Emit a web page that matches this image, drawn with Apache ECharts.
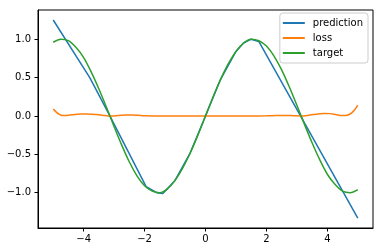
<!DOCTYPE html>
<html><head><meta charset="utf-8">
<script src="https://cdn.jsdelivr.net/npm/echarts@6/dist/echarts.min.js"></script>
<style>html,body{margin:0;padding:0;background:#fff}#c{width:383px;height:252px}</style>
</head><body><div id="c"></div>
<script>
const xTicks = [-4, -2, 0, 2, 4];
const yTicks = [-1, -0.5, 0, 0.5, 1];
const predX = [-5, -3.8, -3.14, -1.95, -1.6, -1.4, -1.0, -0.5, 0, 0.5, 1.0, 1.25, 1.5, 1.75, 5];
const predY = [1.25, 0.5, 0.0, -0.92, -1.0, -1.01, -0.84, -0.48, 0, 0.48, 0.84, 0.95, 1.0, 0.97, -1.33];
const lossX = [-5, -4.9, -4.8, -4.7, -4.5, -4.3, -4.1, -3.9, -3.6, -3.3, -3.15, -2.9, -2.6, -2.4, -2.2, -2.0, -1.5, -1, 0, 1, 1.5, 2.0, 2.3, 2.6, 2.9, 3.15, 3.4, 3.7, 3.9, 4.1, 4.3, 4.5, 4.6, 4.7, 4.8, 4.9, 5];
const lossY = [0.09, 0.05, 0.02, 0.005, 0.008, 0.02, 0.026, 0.025, 0.018, 0.006, 0.0, 0.004, 0.012, 0.013, 0.008, 0.002, 0, 0, 0, 0, 0, 0.001, 0.004, 0.006, 0.003, 0.0, 0.01, 0.025, 0.033, 0.03, 0.015, 0.004, 0.005, 0.015, 0.04, 0.08, 0.14];
const targetX = [-5, -4.75, -4.5, -4.25, -4, -3.75, -3.5, -3.25, -3, -2.75, -2.5, -2.25, -2, -1.75, -1.5, -1.25, -1, -0.75, -0.5, -0.25, 0, 0.25, 0.5, 0.75, 1, 1.25, 1.5, 1.75, 2, 2.25, 2.5, 2.75, 3, 3.25, 3.5, 3.75, 4, 4.25, 4.5, 4.75, 5];
const targetY = [0.96, 1.00, 0.98, 0.89, 0.76, 0.57, 0.35, 0.11, -0.14, -0.38, -0.60, -0.78, -0.91, -0.98, -1.00, -0.95, -0.84, -0.68, -0.48, -0.25, 0, 0.25, 0.48, 0.68, 0.84, 0.95, 1.00, 0.98, 0.91, 0.78, 0.60, 0.38, 0.14, -0.11, -0.35, -0.57, -0.76, -0.89, -0.98, -1.00, -0.96];

const zip = (a, b) => a.map((v, i) => [v, b[i]]);
const minus = s => s.replace('-', '\u2212');
const font = 'DejaVu Sans';
const chart = echarts.init(document.getElementById('c'), null, {renderer: 'canvas'});
chart.setOption({
  animation: false,
  grid: {left: 38, top: 10, right: 10, bottom: 24, show: true, borderColor: '#000', borderWidth: 1, backgroundColor: 'transparent'},
  xAxis: {
    type: 'value', min: -5.5, max: 5.5,
    axisLine: {show: true, onZero: false, lineStyle: {color: '#000', width: 1}},
    axisTick: {show: true, inside: false, length: 3.5, customValues: xTicks, lineStyle: {color: '#000'}},
    axisLabel: {customValues: xTicks, margin: 6, color: '#000', fontFamily: font, fontSize: 10, formatter: v => minus(String(v))},
    splitLine: {show: false}
  },
  yAxis: {
    type: 'value', min: -1.46, max: 1.38,
    axisLine: {show: true, onZero: false, lineStyle: {color: '#000', width: 1}},
    axisTick: {show: true, inside: false, length: 3.5, customValues: yTicks, lineStyle: {color: '#000'}},
    axisLabel: {customValues: yTicks, margin: 7, color: '#000', fontFamily: font, fontSize: 10, formatter: v => minus(v.toFixed(1))},
    splitLine: {show: false}
  },
  legend: {
    orient: 'vertical', right: 15, top: 13,
    padding: [4, 5, 4, 3], itemGap: 3, itemWidth: 22, itemHeight: 2,
    borderColor: '#cccccc', borderWidth: 1, borderRadius: 3, backgroundColor: 'rgba(255,255,255,0.8)',
    icon: 'rect',
    textStyle: {fontFamily: font, fontSize: 10, color: '#000', lineHeight: 12, padding: [0, 0, 0, 3]},
    data: ['prediction', 'loss', 'target']
  },
  series: [
    {name: 'prediction', type: 'line', data: zip(predX, predY), showSymbol: false, color: '#1f77b4', lineStyle: {width: 1.5}},
    {name: 'loss', type: 'line', data: zip(lossX, lossY), smooth: 0.3, showSymbol: false, color: '#ff7f0e', lineStyle: {width: 1.5}},
    {name: 'target', type: 'line', data: zip(targetX, targetY), smooth: 0.3, showSymbol: false, color: '#2ca02c', lineStyle: {width: 1.5}}
  ]
});
</script></body></html>
